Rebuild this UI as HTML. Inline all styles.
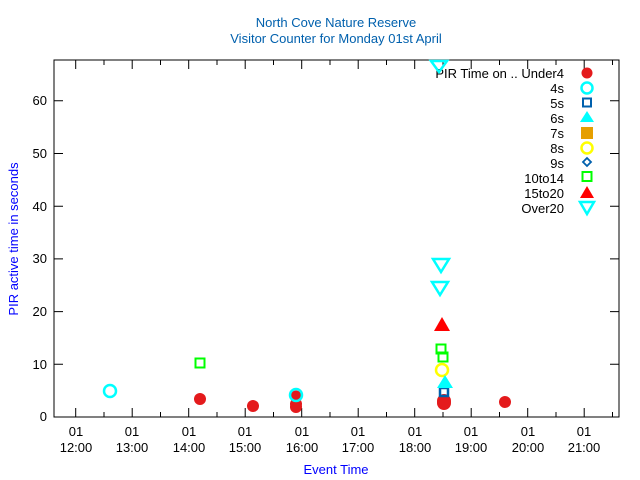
<!DOCTYPE html>
<html><head><style>body{margin:0;background:#fff}svg{display:block}text{font-family:"Liberation Sans",sans-serif}</style></head><body>
<svg width="640" height="480" xmlns="http://www.w3.org/2000/svg">
<rect width="640" height="480" fill="#fff"/>
<text x="336" y="27" font-size="13" text-anchor="middle" style="fill:#0060ad">North Cove Nature Reserve</text>
<text x="336" y="43" font-size="13" text-anchor="middle" style="fill:#0060ad">Visitor Counter for Monday 01st April</text>
<rect x="54" y="60" width="565" height="357" fill="none" stroke="#000" stroke-width="1"/>
<g stroke="#000" stroke-width="1">
<path d="M54 417h9M54 364.3h9M54 311.6h9M54 258.9h9M54 206.2h9M54 153.5h9M54 100.8h9M619 417h-9M619 364.3h-9M619 311.6h-9M619 258.9h-9M619 206.2h-9M619 153.5h-9M619 100.8h-9"/>
<path d="M75.7 417v-9M132.2 417v-9M188.7 417v-9M245.2 417v-9M301.7 417v-9M358.2 417v-9M414.7 417v-9M471.2 417v-9M527.7 417v-9M584.2 417v-9M75.7 60v9M132.2 60v9M188.7 60v9M245.2 60v9M301.7 60v9M358.2 60v9M414.7 60v9M471.2 60v9M527.7 60v9M584.2 60v9"/>
<path d="M104 417v-5M160.5 417v-5M217 417v-5M273.5 417v-5M330 417v-5M386.5 417v-5M443 417v-5M499.5 417v-5M556 417v-5M612.5 417v-5M104 60v5M160.5 60v5M217 60v5M273.5 60v5M330 60v5M386.5 60v5M443 60v5M499.5 60v5M556 60v5M612.5 60v5"/>
</g>
<g font-size="13" fill="#000" text-anchor="end">
<text x="47" y="421">0</text><text x="47" y="369">10</text><text x="47" y="316">20</text><text x="47" y="263">30</text><text x="47" y="211">40</text><text x="47" y="158">50</text><text x="47" y="105">60</text>
</g>
<g font-size="13" fill="#000" text-anchor="middle">
<text x="76" y="436">01</text><text x="76" y="452">12:00</text>
<text x="132" y="436">01</text><text x="132" y="452">13:00</text>
<text x="189" y="436">01</text><text x="189" y="452">14:00</text>
<text x="245" y="436">01</text><text x="245" y="452">15:00</text>
<text x="302" y="436">01</text><text x="302" y="452">16:00</text>
<text x="358" y="436">01</text><text x="358" y="452">17:00</text>
<text x="415" y="436">01</text><text x="415" y="452">18:00</text>
<text x="471" y="436">01</text><text x="471" y="452">19:00</text>
<text x="528" y="436">01</text><text x="528" y="452">20:00</text>
<text x="584" y="436">01</text><text x="584" y="452">21:00</text>
</g>
<text x="336" y="474" font-size="13" fill="#0000ff" text-anchor="middle">Event Time</text>
<text transform="translate(18 239) rotate(-90)" font-size="13" fill="#0000ff" text-anchor="middle">PIR active time in seconds</text>
<g font-size="13" fill="#000" text-anchor="end">
<text x="564" y="78">PIR Time on .. Under4</text><text x="564" y="93">4s</text><text x="564" y="108">5s</text><text x="564" y="123">6s</text><text x="564" y="138">7s</text><text x="564" y="153">8s</text><text x="564" y="168">9s</text><text x="564" y="183">10to14</text><text x="564" y="198">15to20</text><text x="564" y="213">Over20</text>
</g>
<circle cx="587" cy="73" r="5.5" fill="#e41a1c"/>
<circle cx="587" cy="88" r="5.5" fill="none" stroke="#00ffff" stroke-width="2.5"/>
<rect x="583" y="98.5" width="8" height="8" fill="none" stroke="#0060ad" stroke-width="2"/>
<path d="M587 111l7 11h-14z" fill="#00ffff"/>
<rect x="581" y="127" width="12" height="12" fill="#e69f00"/>
<circle cx="587" cy="148" r="5.5" fill="none" stroke="#ffff00" stroke-width="2.5"/>
<path d="M587 158l4 4-4 4-4-4z" fill="none" stroke="#0060ad" stroke-width="1.8"/>
<rect x="582.5" y="172" width="9" height="9" fill="none" stroke="#00ff00" stroke-width="2"/>
<path d="M587 186l7 12h-14z" fill="#ff0000"/>
<path d="M580 202h14l-7 12z" fill="none" stroke="#00ffff" stroke-width="2.5"/>
<g fill="#e41a1c">
<circle cx="200" cy="399" r="6"/><circle cx="253" cy="406" r="6"/>
<circle cx="296" cy="407" r="6"/><circle cx="296" cy="404" r="6"/><circle cx="296" cy="396" r="5.5"/>
<circle cx="444" cy="403" r="7"/><circle cx="444" cy="401" r="7"/><circle cx="505" cy="402" r="6"/>
</g>
<circle cx="110" cy="391" r="6" fill="none" stroke="#00ffff" stroke-width="2.5"/>
<circle cx="296" cy="395" r="6" fill="none" stroke="#00ffff" stroke-width="2.5"/>
<rect x="195.5" y="358.5" width="9" height="9" fill="none" stroke="#00ff00" stroke-width="2"/>
<rect x="436.5" y="344.5" width="9" height="9" fill="none" stroke="#00ff00" stroke-width="2"/>
<rect x="438.5" y="352.5" width="9" height="9" fill="none" stroke="#00ff00" stroke-width="2"/>
<circle cx="442" cy="370" r="6" fill="none" stroke="#ffff00" stroke-width="2.5"/>
<rect x="440" y="388" width="8" height="8" fill="none" stroke="#0060ad" stroke-width="2.5"/>
<path d="M445 375l8 13h-16z" fill="#00ffff"/>
<path d="M442 317l8 14h-16z" fill="#ff0000"/>
<path d="M433 259h16l-8 13z" fill="none" stroke="#00ffff" stroke-width="2.5"/>
<path d="M432 282h16l-8 13z" fill="none" stroke="#00ffff" stroke-width="2.5"/>
<path d="M431 61h16l-8 11z" fill="none" stroke="#00ffff" stroke-width="2.5"/>
</svg>
</body></html>
